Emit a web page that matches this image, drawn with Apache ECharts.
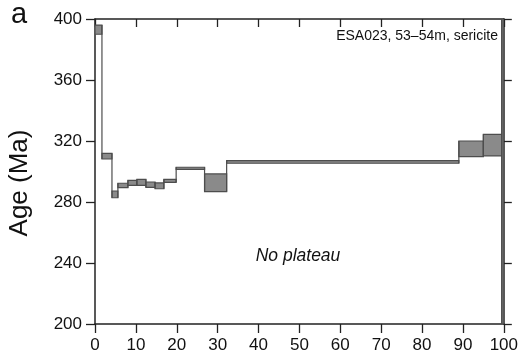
<!DOCTYPE html>
<html>
<head>
<meta charset="utf-8">
<script src="https://cdn.jsdelivr.net/npm/echarts@6/dist/echarts.min.js"></script>
<style>html,body{margin:0;padding:0;background:#fff}#c{width:521px;height:356px}</style>
</head>
<body>
<div id="c"></div>
<script>
// Cumulative 39Ar released (%) — step boundaries
var stepFrom = [0, 1.7, 4.15, 5.6, 8.05, 10.25, 12.45, 14.7, 16.85, 19.85, 26.8, 32.2, 89.0, 95.0, 99.5];
var stepTo   = [1.7, 4.15, 5.6, 8.05, 10.25, 12.45, 14.7, 16.85, 19.85, 26.8, 32.2, 89.0, 95.0, 99.5, 100];
// Apparent age ranges (Ma), box limits
var ageLow  = [390.0, 308.2, 282.8, 289.4, 290.9, 290.9, 289.6, 288.7, 292.9, 301.4, 286.8, 305.4, 309.7, 310.2, 200];
var ageHigh = [396.0, 311.9, 287.2, 292.3, 294.2, 294.9, 293.1, 292.5, 294.9, 302.8, 298.4, 307.1, 320.0, 324.4, 400];
var xTicks = [0, 10, 20, 30, 40, 50, 60, 70, 80, 90, 100];
var yTicks = [200, 240, 280, 320, 360, 400];
var sampleLabel = 'ESA023, 53–54m, sericite';
var noteLabel = 'No plateau';
var yTitle = 'Age (Ma)';
var panelLabel = 'a';

var data = stepFrom.map(function (f, i) { return [f, stepTo[i], ageLow[i], ageHigh[i]]; });

var FILL = '#8a8a8a', EDGE = '#4d4d4d', AX = '#222';
var FONT = 'Liberation Sans, Arial, sans-serif';
var chart = echarts.init(document.getElementById('c'), null, {renderer: 'canvas'});

chart.setOption({
  animation: false,
  backgroundColor: '#fff',
  grid: {left: 95, right: 16, top: 19, bottom: 32, containLabel: false},
  xAxis: [{
    type: 'value', min: xTicks[0], max: xTicks[xTicks.length - 1], interval: 10,
    position: 'bottom',
    axisLine: {show: true, onZero: false, lineStyle: {color: AX, width: 1.5}},
    axisTick: {show: true, inside: false, length: 9, lineStyle: {color: AX, width: 1.3}},
    axisLabel: {color: '#111', fontSize: 17, fontFamily: FONT, margin: 13},
    splitLine: {show: false}
  }, {
    type: 'value', min: xTicks[0], max: xTicks[xTicks.length - 1], interval: 10,
    position: 'top',
    axisLine: {show: true, onZero: false, lineStyle: {color: AX, width: 1.5}},
    axisTick: {show: true, inside: true, length: 8, lineStyle: {color: AX, width: 1.3}},
    axisLabel: {show: false},
    splitLine: {show: false}
  }],
  yAxis: [{
    type: 'value', min: yTicks[0], max: yTicks[yTicks.length - 1], interval: 40,
    position: 'left',
    axisLine: {show: true, onZero: false, lineStyle: {color: AX, width: 1.5}},
    axisTick: {show: true, inside: false, length: 9, lineStyle: {color: AX, width: 1.3}},
    axisLabel: {color: '#111', fontSize: 17, fontFamily: FONT, margin: 13},
    splitLine: {show: false}
  }, {
    type: 'value', min: yTicks[0], max: yTicks[yTicks.length - 1], interval: 40,
    position: 'right',
    axisLine: {show: true, onZero: false, lineStyle: {color: AX, width: 1.5}},
    axisTick: {show: true, inside: false, length: 8, lineStyle: {color: AX, width: 1.3}},
    axisLabel: {show: false},
    splitLine: {show: false}
  }],
  graphic: [
    {type: 'text', x: 19, y: 15, style: {text: panelLabel, fontSize: 29, fill: '#111', fontFamily: FONT, align: 'center', verticalAlign: 'middle'}},
    {type: 'text', x: 20, y: 183, rotation: Math.PI / 2, style: {text: yTitle, fontSize: 26, fill: '#111', fontFamily: FONT, align: 'center', verticalAlign: 'middle'}},
    {type: 'text', right: 23, top: 29, style: {text: sampleLabel, fontSize: 14, fill: '#111', fontFamily: FONT}},
    {type: 'text', x: 298, y: 256, style: {text: noteLabel, fontSize: 17.5, fontStyle: 'italic', fill: '#111', fontFamily: FONT, align: 'center', verticalAlign: 'middle'}}
  ],
  series: [{
    type: 'custom',
    xAxisIndex: 0, yAxisIndex: 0,
    clip: true,
    data: data,
    renderItem: function (params, api) {
      var i = params.dataIndex;
      var x0 = api.value(0), x1 = api.value(1), lo = api.value(2), hi = api.value(3);
      var p0 = api.coord([x0, hi]);
      var p1 = api.coord([x1, lo]);
      var children = [{
        type: 'rect',
        shape: {x: p0[0], y: p0[1], width: p1[0] - p0[0], height: p1[1] - p0[1]},
        style: {fill: FILL, stroke: EDGE, lineWidth: 1.2}
      }];
      if (i > 0) {
        var pl = ageLow[i - 1], ph = ageHigh[i - 1];
        var a = api.coord([x0, Math.min(lo, pl)]);
        var b = api.coord([x0, Math.max(hi, ph)]);
        children.push({
          type: 'line',
          shape: {x1: a[0], y1: a[1], x2: b[0], y2: b[1]},
          style: {stroke: EDGE, lineWidth: 1.2}
        });
      }
      return {type: 'group', children: children};
    }
  }]
});
</script>
</body>
</html>
